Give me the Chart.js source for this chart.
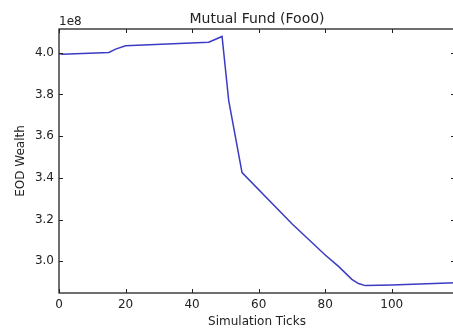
<!DOCTYPE html>
<html>
<head>
<meta charset="utf-8">
<script src="https://cdn.jsdelivr.net/npm/chart.js@4/dist/chart.umd.min.js"></script>
<style>
  html, body { margin: 0; padding: 0; background: #fff; overflow: hidden; }
  #wrap { width: 458px; height: 329px; }
</style>
</head>
<body>
<div id="wrap"><canvas id="c" width="458" height="329"></canvas></div>
<script>
// ---- data (values in units of 1e8) ----
const titleText = 'Mutual Fund (Foo0)';
const xLabel = 'Simulation Ticks';
const yLabel = 'EOD Wealth';
const offsetText = '1e8';
const ticksX = [0, 1, 15, 17, 20, 45, 49, 51, 55, 70, 80, 84, 88, 90, 92, 100, 119];
const wealth = [3.996, 3.993, 4.001, 4.017, 4.033, 4.050, 4.078, 3.770, 3.425, 3.180, 3.030, 2.975, 2.913, 2.893, 2.883, 2.886, 2.897];
const xTickValues = [0, 20, 40, 60, 80, 100];
const yTickValues = [3.0, 3.2, 3.4, 3.6, 3.8, 4.0];
const xRange = [0, 119];
const yRange = [2.8475, 4.1137];

const points = ticksX.map((x, i) => ({ x: x, y: wealth[i] }));
const textColor = '#222';
const fontFamily = '"DejaVu Sans", sans-serif';

const framePlugin = {
  id: 'frame',
  afterDatasetsDraw(chart) {
    const { ctx, chartArea: { left, right, top, bottom }, scales: { x, y } } = chart;
    ctx.save();
    ctx.strokeStyle = '#222';
    ctx.lineWidth = 1.3;
    ctx.strokeRect(left, top, right - left, bottom - top);
    ctx.lineWidth = 1;
    const seg = (x1, y1, x2, y2) => { ctx.beginPath(); ctx.moveTo(x1, y1); ctx.lineTo(x2, y2); ctx.stroke(); };
    xTickValues.forEach(v => {
      const px = Math.round(x.getPixelForValue(v)) + 0.5;
      seg(px, bottom, px, bottom - 4);
      seg(px, top, px, top + 4);
    });
    yTickValues.forEach(v => {
      const py = Math.round(y.getPixelForValue(v)) + 0.5;
      seg(left, py, left + 4, py);
      seg(right, py, right - 4, py);
    });
    ctx.fillStyle = textColor;
    ctx.font = '14px ' + fontFamily;
    ctx.textAlign = 'center';
    ctx.textBaseline = 'alphabetic';
    ctx.fillText(titleText, (left + right) / 2, 23);
    ctx.font = '12px ' + fontFamily;
    ctx.textAlign = 'left';
    ctx.fillText(offsetText, left, 25);
    ctx.restore();
  }
};

new Chart(document.getElementById('c'), {
  type: 'line',
  data: {
    datasets: [{
      data: points,
      borderColor: '#3b3bc4',
      borderWidth: 1.5,
      pointRadius: 0,
      tension: 0,
      fill: false
    }]
  },
  options: {
    responsive: false,
    animation: false,
    devicePixelRatio: 1,
    layout: { padding: { top: 29, right: 3, left: 0, bottom: 0 } },
    plugins: { legend: { display: false }, title: { display: false }, tooltip: { enabled: false } },
    scales: {
      x: {
        type: 'linear',
        min: xRange[0], max: xRange[1],
        grid: { display: false, drawTicks: false, tickLength: 0 },
        border: { display: false },
        afterBuildTicks: s => { s.ticks = xTickValues.map(v => ({ value: v })); },
        afterFit: s => { s.height = 36; },
        ticks: { color: textColor, font: { family: fontFamily, size: 12 }, padding: 5, maxRotation: 0,
                 callback: v => String(v) },
        title: { display: true, text: xLabel, color: textColor, font: { family: fontFamily, size: 12 }, padding: { top: 0, bottom: 0 } }
      },
      y: {
        type: 'linear',
        min: yRange[0], max: yRange[1],
        grid: { display: false, drawTicks: false, tickLength: 0 },
        border: { display: false },
        afterBuildTicks: s => { s.ticks = yTickValues.map(v => ({ value: v })); },
        afterFit: s => { s.width = 59; },
        ticks: { color: textColor, font: { family: fontFamily, size: 12 }, padding: 5,
                 callback: v => Number(v).toFixed(1) },
        title: { display: true, text: yLabel, color: textColor, font: { family: fontFamily, size: 12 }, padding: { top: 14, bottom: 0 } }
      }
    }
  },
  plugins: [framePlugin]
});
</script>
</body>
</html>
